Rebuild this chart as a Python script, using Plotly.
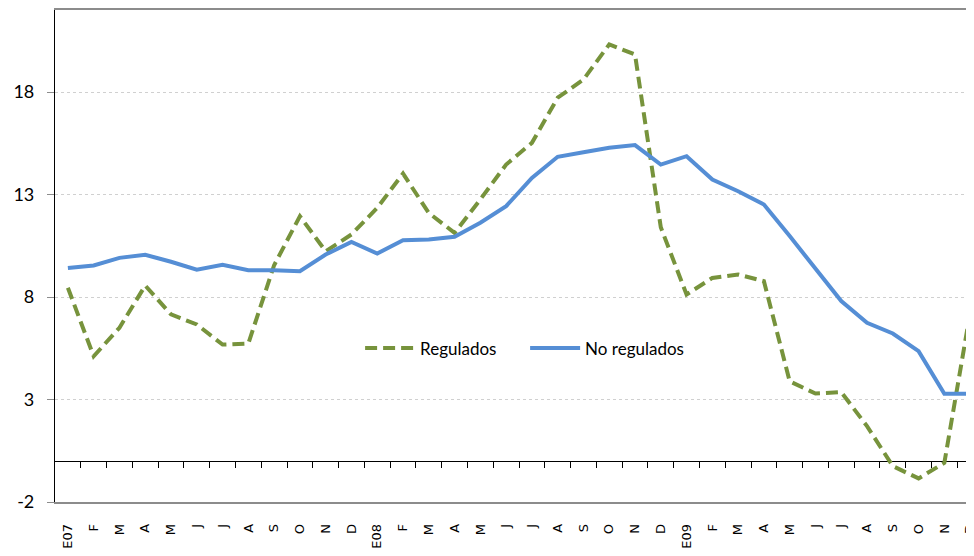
import plotly.graph_objects as go

# month labels (E = enero), Jan 2007 - Dec 2009
months = ["E07", "F", "M", "A", "M", "J", "J", "A", "S", "O", "N", "D",
          "E08", "F", "M", "A", "M", "J", "J", "A", "S", "O", "N", "D",
          "E09", "F", "M", "A", "M", "J", "J", "A", "S", "O", "N", "D"]

regulados = [8.45, 5.11, 6.5, 8.56, 7.15, 6.66, 5.68, 5.73, 9.55, 11.94, 10.23, 11.05,
             12.35, 14.02, 12.1, 11.13, 12.76, 14.46, 15.52, 17.72, 18.61, 20.32, 19.83, 11.4,
             8.12, 8.93, 9.1, 8.77, 3.89, 3.29, 3.36, 1.70, -0.25, -0.85, -0.09, 7.23]

no_regulados = [9.42, 9.54, 9.91, 10.06, 9.72, 9.33, 9.57, 9.31, 9.31, 9.26, 10.07, 10.69,
                10.12, 10.77, 10.80, 10.94, 11.62, 12.43, 13.81, 14.84, 15.06, 15.28, 15.41, 14.46,
                14.87, 13.73, 13.16, 12.51, 10.97, 9.35, 7.80, 6.74, 6.22, 5.36, 3.28, 3.28]

y_ticks = [-2, 3, 8, 13, 18]

x = list(range(len(months)))
x_range = [-0.5, 35.15]
y_range = [-2, 22]

fig = go.Figure()
fig.add_trace(go.Scatter(x=x, y=regulados, name="Regulados", mode="lines",
                         line=dict(color="#77933C", width=4, dash="12px,6px")))
fig.add_trace(go.Scatter(x=x, y=no_regulados, name="No regulados", mode="lines",
                         line=dict(color="#558ED5", width=4)))
# invisible helper so the zero-line axis (ticks at month boundaries) gets drawn
fig.add_trace(go.Scatter(x=x, y=no_regulados, xaxis="x2", mode="none",
                         showlegend=False, hoverinfo="skip"))

# the page body adds an 8px margin all round, so keep the figure inside the window
fig.update_layout(
    width=966, height=540,
    margin=dict(l=47, r=0, t=2, b=46),
    paper_bgcolor="white",
    plot_bgcolor="white",
    font=dict(family="Lato, DejaVu Sans, sans-serif", color="#000000"),
    xaxis=dict(
        range=x_range, tickmode="array", tickvals=x, ticktext=months,
        tickangle=-90, ticks="", showgrid=False, zeroline=False,
        showline=True, linecolor="#8c8c8c", linewidth=1.5, mirror=True,
        tickfont=dict(family="DejaVu Sans", size=13), ticklabelstandoff=15,
        ticklabeloverflow="allow", automargin=False,
    ),
    xaxis2=dict(
        overlaying="x", anchor="free",
        position=(0 - y_range[0]) / (y_range[1] - y_range[0]),
        range=x_range, tickmode="array", tickvals=[i + 0.5 for i in x[:-1]],
        ticks="outside", ticklen=6, tickcolor="#000000", tickwidth=1,
        showticklabels=False, showgrid=False, zeroline=False, showline=False,
        automargin=False,
    ),
    yaxis=dict(
        range=y_range, tickmode="array", tickvals=y_ticks,
        ticktext=[str(v) for v in y_ticks],
        showgrid=True, gridcolor="#d0d0d0", gridwidth=1, griddash="dot",
        zeroline=True, zerolinecolor="#000000", zerolinewidth=1.2,
        showline=True, linecolor="#000000", linewidth=1.2,
        ticks="outside", ticklen=7, tickcolor="#8c8c8c",
        tickfont=dict(size=18), ticklabelstandoff=9, automargin=False,
    ),
    legend=dict(
        orientation="h", x=0.332, xanchor="left", y=0.312, yanchor="middle",
        bgcolor="rgba(0,0,0,0)", font=dict(size=17), itemwidth=50,
        entrywidth=100,
    ),
)

fig.write_html("out.html")
